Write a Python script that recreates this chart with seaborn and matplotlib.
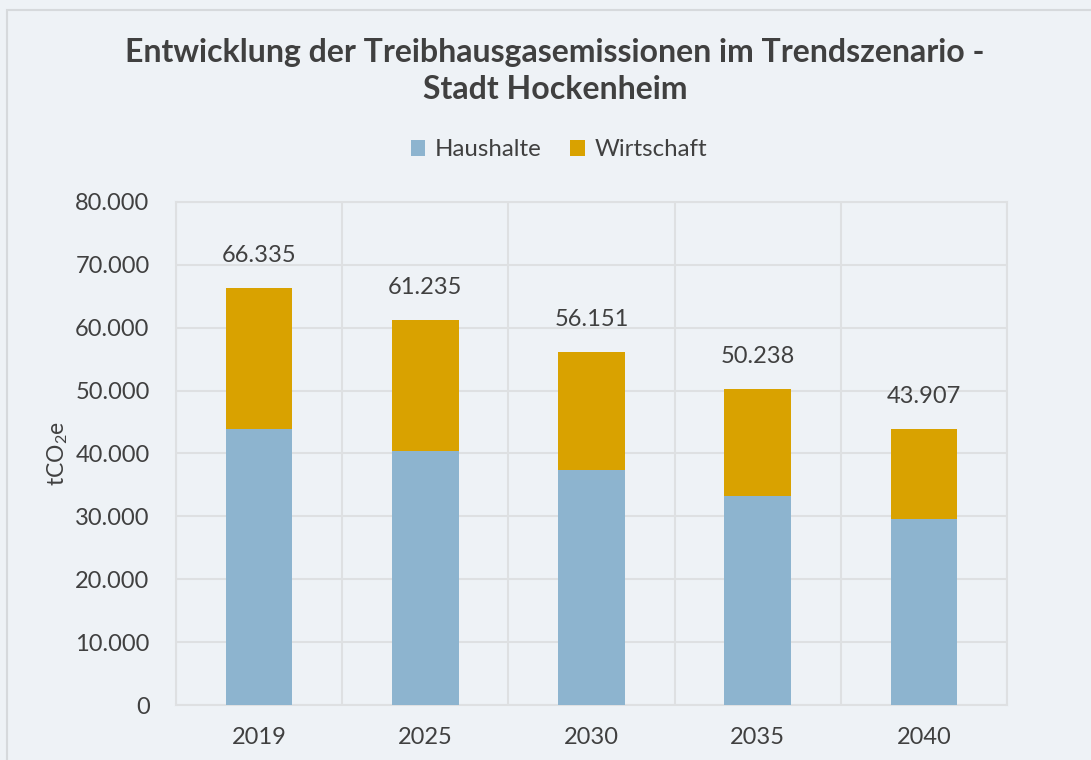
import matplotlib
matplotlib.use("Agg")
import matplotlib.pyplot as plt
import matplotlib.ticker as mticker
import pandas as pd
import seaborn as sns

years = ["2019", "2025", "2030", "2035", "2040"]
haushalte = [43900, 40400, 37400, 33200, 29600]
wirtschaft = [22435, 20835, 18751, 17038, 14307]

bg = "#EEF2F6"
grid_col = "#DEE0E2"
text_col = "#404040"
col_haus = "#8DB4CF"
col_wirt = "#D9A200"

sns.set_theme(style="white")
plt.rcParams["font.family"] = ["Lato", "DejaVu Sans"]
plt.rcParams["mathtext.fontset"] = "custom"
plt.rcParams["mathtext.rm"] = "Lato"

df = pd.DataFrame({"Jahr": years, "Haushalte": haushalte, "Wirtschaft": wirtschaft})
df["Gesamt"] = df["Haushalte"] + df["Wirtschaft"]

fig = plt.figure(figsize=(10.91, 7.6), dpi=100, facecolor=bg)
ax = fig.add_axes([176 / 1091, 1 - 705 / 760, (1007 - 176) / 1091, (705 - 202) / 760])
ax.set_facecolor(bg)

# stacked look: total bar first, households drawn over it
sns.barplot(data=df, x="Jahr", y="Gesamt", color=col_wirt, saturation=1,
            width=0.4, label="Wirtschaft", ax=ax, zorder=3, linewidth=0)
sns.barplot(data=df, x="Jahr", y="Haushalte", color=col_haus, saturation=1,
            width=0.4, label="Haushalte", ax=ax, zorder=3, linewidth=0)

fmt = lambda v: f"{v:,.0f}".replace(",", ".")
ax.bar_label(ax.containers[0], labels=[fmt(v) for v in df["Gesamt"]],
             padding=16, fontsize=17, color=text_col)

ax.set_ylim(0, 80000)
ax.set_xlim(-0.5, 4.5)
ax.yaxis.set_major_locator(mticker.MultipleLocator(10000))
ax.yaxis.set_major_formatter(mticker.FuncFormatter(lambda v, p: fmt(v)))
ax.set_xticks([-0.5, 0.5, 1.5, 2.5, 3.5, 4.5], minor=True)
ax.grid(axis="y", which="major", color=grid_col, linewidth=1.5, zorder=0)
ax.grid(axis="x", which="minor", color=grid_col, linewidth=1.5, zorder=0)
ax.set_axisbelow(True)
ax.tick_params(axis="both", which="both", length=0, labelsize=17, labelcolor=text_col)
ax.tick_params(axis="y", pad=19)
ax.tick_params(axis="x", pad=16)
for s in ax.spines.values():
    s.set_color(grid_col)
    s.set_linewidth(1.5)

ax.set_xlabel("")
ax.set_ylabel(r"tCO$_\mathregular{2}$e", fontsize=16.5, color=text_col, labelpad=4)

handles, labels = ax.get_legend_handles_labels()
if ax.legend_:
    ax.legend_.remove()
order = [labels.index("Haushalte"), labels.index("Wirtschaft")]
fig.legend([handles[i] for i in order], [labels[i] for i in order],
           loc="center", bbox_to_anchor=(559 / 1091, 1 - 150 / 760), ncol=2,
           frameon=False, fontsize=17.3, labelcolor=text_col,
           handlelength=0.6, handleheight=0.6, handletextpad=0.4, columnspacing=1.2)

fig.text(555 / 1091, 1 - 71 / 760,
         "Entwicklung der Treibhausgasemissionen im Trendszenario -\nStadt Hockenheim",
         ha="center", va="center", fontsize=23, fontweight="bold", color=text_col,
         linespacing=1.33)

# outer chart border (cropped on right and bottom)
fig.patches.append(plt.Rectangle((7 / 1091, -0.1), 1.2, 1.1 - 10 / 760,
                                 transform=fig.transFigure, fill=False,
                                 edgecolor="#D6D9DC", linewidth=1.5))

fig.savefig("out.png", dpi=100, facecolor=bg)
